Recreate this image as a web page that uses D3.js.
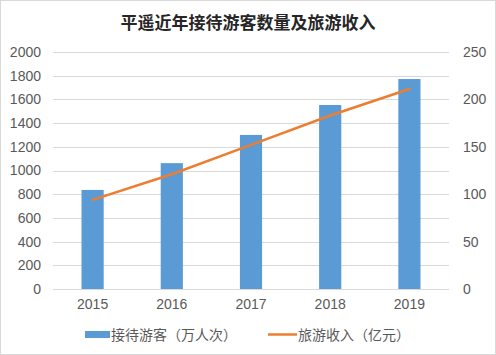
<!DOCTYPE html>
<html>
<head>
<meta charset="utf-8">
<script src="https://cdn.jsdelivr.net/npm/d3@7"></script>
<style>
  body { margin: 0; background: #fff; }
  svg { font-family: "Liberation Sans", "Noto Sans CJK SC", sans-serif; }
</style>
</head>
<body>
<svg width="496" height="355"></svg>
<script>
// data
var years = ["2015", "2016", "2017", "2018", "2019"];
var visitors = [836, 1062, 1300, 1553, 1772];   // 接待游客（万人次）
var revenue = [94, 121, 152, 183, 211];          // 旅游收入（亿元）
var leftTicks = [0, 200, 400, 600, 800, 1000, 1200, 1400, 1600, 1800, 2000];
var rightTicks = [0, 50, 100, 150, 200, 250];

var svg = d3.select("svg");
var W = 496, H = 355;
var m = { left: 53, right: 47, top: 52, bottom: 66 };

// outer border
svg.append("rect")
  .attr("x", 0.5).attr("y", 0.5)
  .attr("width", W - 1).attr("height", H - 1)
  .attr("fill", "#fff").attr("stroke", "#d9d9d9");

var x = d3.scaleBand().domain(years).range([m.left, W - m.right]).paddingInner(0.72).paddingOuter(0.36);
var yL = d3.scaleLinear().domain([0, 2000]).range([H - m.bottom, m.top]);
var yR = d3.scaleLinear().domain([0, 250]).range([H - m.bottom, m.top]);

// title
svg.append("text")
  .attr("x", 248).attr("y", 29)
  .attr("text-anchor", "middle")
  .attr("font-family", "Noto Sans CJK SC")
  .attr("font-size", 17).attr("font-weight", "bold")
  .attr("fill", "#262626")
  .text("平遥近年接待游客数量及旅游收入");

// gridlines
svg.append("g").selectAll("line")
  .data(leftTicks)
  .enter().append("line")
  .attr("x1", m.left).attr("x2", W - m.right)
  .attr("y1", function(d) { return Math.round(yL(d)) + 0.5; })
  .attr("y2", function(d) { return Math.round(yL(d)) + 0.5; })
  .attr("stroke", "#d9d9d9");

// left axis
var axL = svg.append("g")
  .attr("transform", "translate(" + m.left + ",0)")
  .call(d3.axisLeft(yL).tickValues(leftTicks).tickFormat(d3.format("d")).tickSize(0).tickPadding(12));
axL.select(".domain").remove();
axL.selectAll("text").attr("font-size", 14).attr("fill", "#595959");

// right axis
var axR = svg.append("g")
  .attr("transform", "translate(" + (W - m.right) + ",0)")
  .call(d3.axisRight(yR).tickValues(rightTicks).tickFormat(d3.format("d")).tickSize(0).tickPadding(14));
axR.select(".domain").remove();
axR.selectAll("text").attr("font-size", 14).attr("fill", "#595959");

// bottom axis
var axB = svg.append("g")
  .attr("transform", "translate(0," + (H - m.bottom) + ")")
  .call(d3.axisBottom(x).tickSize(0).tickPadding(10));
axB.select(".domain").remove();
axB.selectAll("text").attr("font-size", 14).attr("fill", "#595959");

// bars
svg.append("g").selectAll("rect")
  .data(visitors)
  .enter().append("rect")
  .attr("x", function(d, i) { return x(years[i]); })
  .attr("width", x.bandwidth())
  .attr("y", function(d) { return yL(d); })
  .attr("height", function(d) { return yL(0) - yL(d); })
  .attr("fill", "#5b9bd5");

// line
var line = d3.line()
  .x(function(d, i) { return x(years[i]) + x.bandwidth() / 2; })
  .y(function(d) { return yR(d); });
svg.append("path")
  .datum(revenue)
  .attr("d", line)
  .attr("fill", "none")
  .attr("stroke", "#ed7d31")
  .attr("stroke-width", 2.5)
  .attr("stroke-linecap", "round");

// legend
var lg = svg.append("g").attr("font-family", "Noto Sans CJK SC").attr("font-size", 14).attr("fill", "#595959");
lg.append("rect").attr("x", 85).attr("y", 331).attr("width", 25).attr("height", 7).attr("fill", "#5b9bd5");
lg.append("text").attr("x", 111).attr("y", 339.5).text("接待游客（万人次）");
lg.append("line").attr("x1", 268).attr("x2", 297).attr("y1", 334.5).attr("y2", 334.5)
  .attr("stroke", "#ed7d31").attr("stroke-width", 2.5);
lg.append("text").attr("x", 298).attr("y", 339.5).text("旅游收入（亿元）");
</script>
</body>
</html>
